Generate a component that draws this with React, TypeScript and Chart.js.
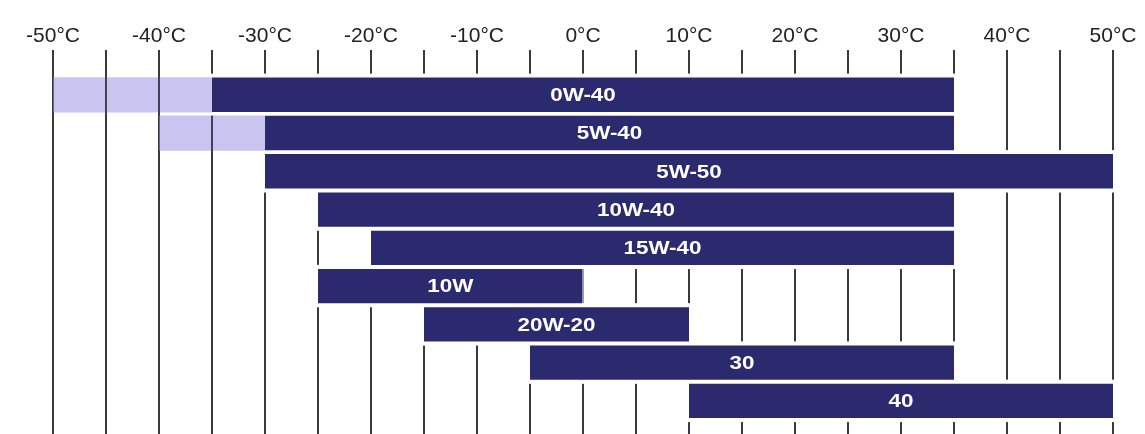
import React, { useEffect, useRef } from "react";
import { Chart, registerables } from "chart.js";

Chart.register(...registerables);

const grades = ["0W-40", "5W-40", "5W-50", "10W-40", "15W-40", "10W", "20W-20", "30", "40"];
const minTemp = [-35, -30, -30, -25, -20, -25, -15, -5, 10];
const maxTemp = [35, 35, 50, 35, 35, 0, 10, 35, 50];
const extMin: (number | null)[] = [-50, -40, null, null, null, null, null, null, null];
const extMax: (number | null)[] = [-35, -30, null, null, null, null, null, null, null];
const gridValues = [-50, -45, -40, -35, -30, -25, -20, -15, -10, -5, 0, 5, 10, 15, 20, 25, 30, 35, 40, 45, 50];

const NAVY = "#2b2a6f";
const SHADE = "rgba(150,138,225,0.5)";

const gridPlugin = {
  id: "oilGrid",
  beforeDatasetsDraw(chart: any) {
    const ctx = chart.ctx;
    const xs = chart.scales.x;
    ctx.save();
    ctx.strokeStyle = "#3a3a3a";
    ctx.lineWidth = 2;
    for (const v of gridValues) {
      const px = Math.round(xs.getPixelForValue(v));
      ctx.beginPath();
      ctx.moveTo(px, 50);
      ctx.lineTo(px, chart.height);
      ctx.stroke();
    }
    // white gaps above/below the main bars
    const meta = chart.getDatasetMeta(1);
    ctx.fillStyle = "#ffffff";
    meta.data.forEach((el: any) => {
      const p = el.getProps(["x", "y", "base", "height"], true);
      const l = Math.min(p.x, p.base) - 1;
      const r = Math.max(p.x, p.base) + 1;
      ctx.fillRect(l, p.y - p.height / 2 - 4, r - l, p.height + 8);
    });
    ctx.restore();
  },
  afterDatasetsDraw(chart: any) {
    const ctx = chart.ctx;
    const xs = chart.scales.x;
    // grid lines showing through the shaded (extended) ranges
    const shadeMeta = chart.getDatasetMeta(0);
    ctx.save();
    ctx.strokeStyle = "rgba(55,55,70,0.75)";
    ctx.lineWidth = 2;
    shadeMeta.data.forEach((el: any, i: number) => {
      if (extMin[i] === null) return;
      const p = el.getProps(["x", "y", "base", "height"], true);
      for (const v of gridValues) {
        if (v <= (extMin[i] as number) || v >= (extMax[i] as number)) continue;
        const px = Math.round(xs.getPixelForValue(v));
        ctx.beginPath();
        ctx.moveTo(px, p.y - p.height / 2);
        ctx.lineTo(px, p.y + p.height / 2);
        ctx.stroke();
      }
    });
    ctx.restore();

    const meta = chart.getDatasetMeta(1);
    ctx.save();
    ctx.fillStyle = "#ffffff";
    ctx.font = "bold 19px 'Liberation Sans', Arial, sans-serif";
    ctx.textAlign = "center";
    ctx.textBaseline = "middle";
    meta.data.forEach((el: any, i: number) => {
      const p = el.getProps(["x", "y", "base"], true);
      const cx = (p.x + p.base) / 2;
      ctx.save();
      ctx.translate(cx, p.y + 1);
      ctx.scale(1.18, 1);
      ctx.fillText(grades[i], 0, 0);
      ctx.restore();
    });
    ctx.restore();
  },
};

export default function App() {
  const canvasRef = useRef<HTMLCanvasElement | null>(null);

  useEffect(() => {
    document.body.style.margin = "0";
    const canvas = canvasRef.current;
    if (!canvas) return;
    const chart = new Chart(canvas, {
      type: "bar",
      data: {
        labels: grades,
        datasets: [
          {
            label: "extended",
            data: extMin.map((v, i) => (v === null ? null : [v, extMax[i] as number])) as any,
            backgroundColor: SHADE,
            borderWidth: 0,
            grouped: false,
            barPercentage: 0.92,
            categoryPercentage: 1,
          } as any,
          {
            label: "range",
            data: minTemp.map((v, i) => [v, maxTemp[i]]) as any,
            backgroundColor: NAVY,
            borderWidth: 0,
            grouped: false,
            barPercentage: 0.9,
            categoryPercentage: 1,
          } as any,
        ],
      },
      options: {
        indexAxis: "y",
        animation: false,
        responsive: true,
        maintainAspectRatio: false,
        layout: { padding: { left: 53, right: 32, top: 21, bottom: 14 } },
        plugins: {
          legend: { display: false },
          tooltip: { enabled: false },
        },
        scales: {
          x: {
            type: "linear",
            position: "top",
            min: -50,
            max: 50,
            grid: {
              display: true,
              drawOnChartArea: false,
              drawTicks: true,
              tickLength: 23.5,
              color: "rgba(0,0,0,0)",
            },
            border: { display: false },
            ticks: {
              stepSize: 10,
              autoSkip: false,
              maxRotation: 0,
              padding: 3,
              color: "#222222",
              font: { family: "'Liberation Sans', Arial, sans-serif", size: 21 },
              callback: (v: any) => `${v}°C`,
            },
          },
          y: {
            type: "category",
            display: false,
            offset: true,
            grid: { display: false },
          },
        },
      },
      plugins: [gridPlugin],
    });
    return () => chart.destroy();
  }, []);

  return (
    <div style={{ position: "relative", width: 1145, height: 434, background: "#fff" }}>
      <canvas ref={canvasRef} />
    </div>
  );
}
